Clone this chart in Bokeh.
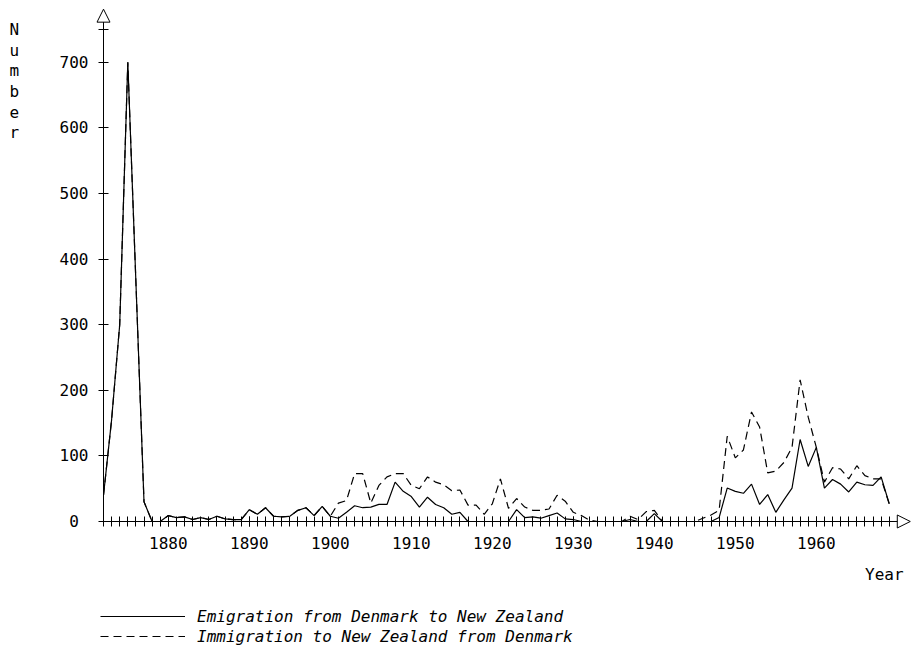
from bokeh.plotting import figure
from bokeh.models import (FixedTicker, Range1d, Label, Arrow, NormalHead, Legend,
                          LegendItem, ColumnDataSource)
from bokeh.embed import file_html
from bokeh.resources import INLINE

years = list(range(1872, 1970))
emigration = [40, 155, 300, 700, 365, 30, 0, 0, 9, 6,
              7, 3, 6, 3, 8, 4, 3, 3, 18, 11,
              21, 8, 7, 8, 17, 21, 9, 23, 8, 5,
              14, 24, 21, 22, 26, 26, 60, 46, 38, 22,
              37, 26, 21, 11, 14, 0, 0, 0, 0, 0,
              0, 18, 6, 7, 5, 9, 13, 4, 3, 0,
              0, 0, 0, 0, 0, 3, 0, 0, 12, 0,
              0, 0, 0, 0, 0, 0, 6, 51, 46, 43,
              57, 26, 41, 14, 33, 51, 125, 84, 113, 51,
              64, 57, 45, 60, 56, 55, 68, 27]
immigration = [40, 155, 300, 700, 365, 30, 0, 0, 9, 6,
               7, 3, 6, 3, 8, 4, 3, 3, 18, 11,
               21, 8, 7, 8, 17, 21, 9, 23, 8, 28,
               32, 73, 73, 28, 55, 68, 73, 73, 55, 50,
               68, 60, 56, 47, 48, 25, 25, 11, 27, 65,
               20, 35, 22, 17, 17, 19, 40, 31, 14, 9,
               2, 0, 0, 0, 0, 8, 3, 15, 17, 0,
               0, 0, 0, 0, 5, 10, 17, 130, 97, 109,
               167, 144, 74, 77, 90, 113, 216, 159, 113, 60,
               82, 80, 65, 85, 70, 65, 65, 27]
x_label_years = [1880, 1890, 1900, 1910, 1920, 1930, 1940, 1950, 1960]
y_ticks = [0, 100, 200, 300, 400, 500, 600, 700, 750]
y_axis_title = "Number"
x_axis_title = "Year"
series_names = ["Emigration from Denmark to New Zealand",
                "Immigration to New Zealand from Denmark"]

FONT = "DejaVu Sans Mono"
FS = "16px"

W, H = 911, 652
p = figure(width=W, height=H, output_backend="svg", toolbar_location=None,
           x_range=Range1d(1859.284, 1971.75), y_range=Range1d(-199.7, 794.2),
           min_border=0, min_border_left=0, min_border_right=0,
           min_border_top=0, min_border_bottom=0)
p.outline_line_color = None
p.grid.visible = False
p.background_fill_color = "white"

src = ColumnDataSource(dict(year=years, emigration=emigration, immigration=immigration))
r_imm = p.line("year", "immigration", source=src, line_color="black",
               line_width=1.2, line_dash="8 5")
r_emi = p.line("year", "emigration", source=src, line_color="black", line_width=1.2)

xa = p.xaxis[0]
xa.fixed_location = 0
xa.bounds = (1872, 1969.5)
xa.ticker = FixedTicker(ticks=x_label_years, minor_ticks=years)
xa.major_tick_in = 5
xa.major_tick_out = 5
xa.minor_tick_in = 5
xa.minor_tick_out = 5
xa.major_tick_line_color = "black"
xa.minor_tick_line_color = "black"
xa.axis_line_color = "black"
xa.major_label_standoff = 11
xa.major_label_text_font = FONT
xa.major_label_text_font_size = FS
xa.major_label_text_color = "black"

ya = p.yaxis[0]
ya.fixed_location = 1872
ya.bounds = (0, 768)
ya.ticker = FixedTicker(ticks=y_ticks)
ya.major_label_overrides = {0: "0\u00a0", 750: ""}
ya.major_tick_in = 5
ya.major_tick_out = 5
ya.minor_tick_line_color = None
ya.major_tick_line_color = "black"
ya.axis_line_color = "black"
ya.major_label_standoff = 10
ya.major_label_text_font = FONT
ya.major_label_text_font_size = FS
ya.major_label_text_color = "black"

# arrow heads at the axis ends
p.add_layout(Arrow(end=NormalHead(size=13, fill_color="white", line_color="black", line_width=1),
                   x_start=1872, y_start=760, x_end=1872, y_end=781, line_color="black"))
p.add_layout(Arrow(end=NormalHead(size=13, fill_color="white", line_color="black", line_width=1),
                   x_start=1969, y_start=0, x_end=1971.6, y_end=0, line_color="black"))

# stacked y-axis title
for k, ch in enumerate(y_axis_title):
    baseline_px = 29 + 20.6 * k
    p.add_layout(Label(x=1861.0, y=(521 - baseline_px) / 0.656, text=ch,
                       text_align="center", text_baseline="alphabetic",
                       text_font=FONT, text_font_size=FS, text_color="black"))

p.add_layout(Label(x=1970.77, y=-80.8, text=x_axis_title, text_align="right",
                   text_baseline="alphabetic", text_font=FONT, text_font_size=FS,
                   text_color="black"))

legend = Legend(items=[LegendItem(label=series_names[0], renderers=[r_emi]),
                       LegendItem(label=series_names[1], renderers=[r_imm])],
                location=(100, H - 646), orientation="vertical", glyph_width=85,
                glyph_height=20, label_height=20, label_standoff=12, padding=0,
                margin=0, spacing=0, border_line_color=None, background_fill_alpha=0,
                label_text_font=FONT, label_text_font_style="italic",
                label_text_font_size=FS, label_text_color="black")
p.add_layout(legend)

open("out.html", "w").write(file_html(p, INLINE))
